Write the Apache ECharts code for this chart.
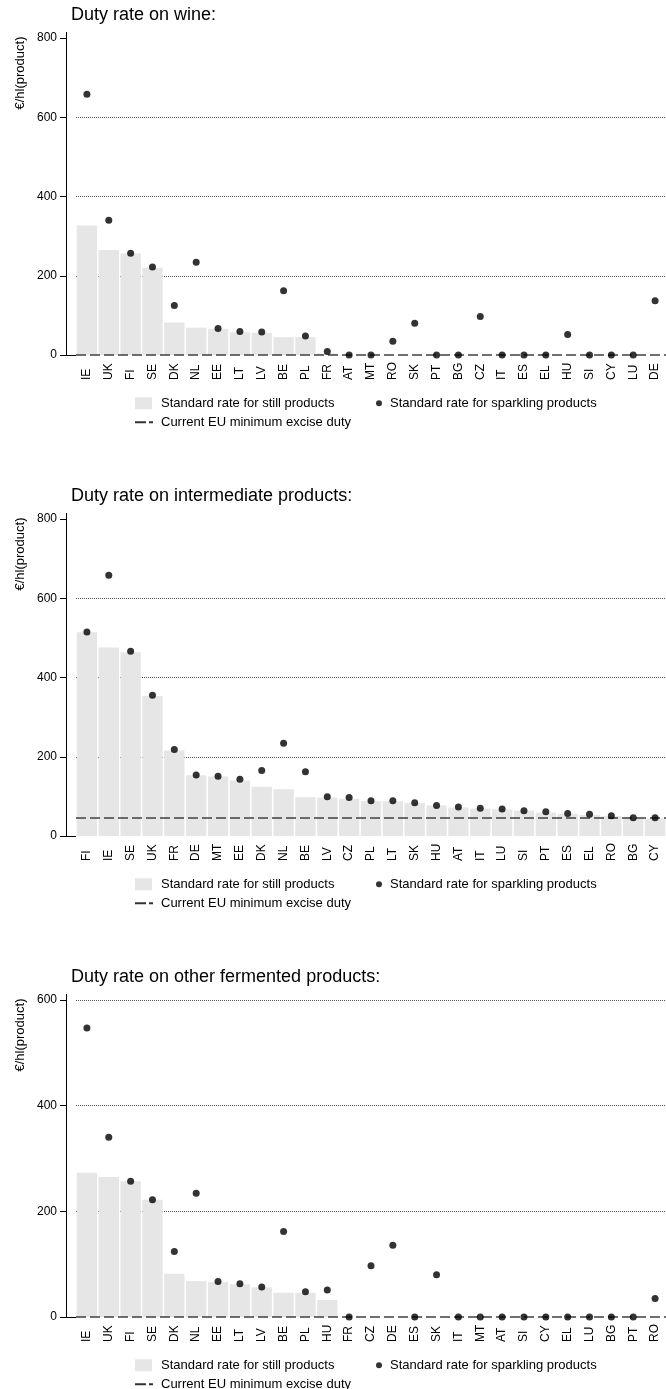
<!DOCTYPE html>
<html><head><meta charset="utf-8">
<script src="https://cdn.jsdelivr.net/npm/echarts@6/dist/echarts.min.js"></script>
<style>html,body{margin:0;padding:0;background:#fff}#c{width:666px;height:1389px}</style>
</head><body><div id="c"></div>
<script>
// ---- data ----
const titles = ["Duty rate on wine:", "Duty rate on intermediate products:", "Duty rate on other fermented products:"];
const yTitle = "€/hl(product)";
const seriesNames = ["Standard rate for still products", "Standard rate for sparkling products", "Current EU minimum excise duty"];

const catsWine = ["IE","UK","FI","SE","DK","NL","EE","LT","LV","BE","PL","FR","AT","MT","RO","SK","PT","BG","CZ","IT","ES","EL","HU","SI","CY","LU","DE"];
const stillWine = [327,265,256,220,82,69,66,57,56,45,45,4,0,0,0,0,0,0,0,0,0,0,0,0,0,0,0];
const sparkWine = [658,340,257,222,125,234,67,59,58,162,48,9,0,0,35,80,0,0,97,0,0,0,52,0,0,0,137];
const euMinWine = 0;

const catsInter = ["FI","IE","SE","UK","FR","DE","MT","EE","DK","NL","BE","LV","CZ","PL","LT","SK","HU","AT","IT","LU","SI","PT","ES","EL","RO","BG","CY"];
const stillInter = [514,476,464,353,216,153,150,140,124,118,98,97,94,88,88,83,77,72,69,67,64,59,56,53,50,45,44];
const sparkInter = [515,658,466,355,218,154,151,143,165,234,162,99,97,89,89,84,77,73,70,68,64,61,57,55,51,46,46];
const euMinInter = 45;

const catsOther = ["IE","UK","FI","SE","DK","NL","EE","LT","LV","BE","PL","HU","FR","CZ","DE","ES","SK","IT","MT","AT","SI","CY","EL","LU","BG","PT","RO"];
const stillOther = [273,265,257,222,82,68,66,62,56,46,46,32,0,0,0,0,0,0,0,0,0,0,0,0,0,0,0];
const sparkOther = [547,340,257,222,124,234,67,63,57,162,48,51,0,97,136,0,80,0,0,0,0,0,0,0,0,0,35];
const euMinOther = 0;

const yMaxes = [800, 800, 600];
const yStep = 200;

// ---- build ----
const panels = [
  {cats: catsWine, still: stillWine, spark: sparkWine, eu: euMinWine},
  {cats: catsInter, still: stillInter, spark: sparkInter, eu: euMinInter},
  {cats: catsOther, still: stillOther, spark: sparkOther, eu: euMinOther}
];
const FONT = "Liberation Sans, Arial, Helvetica, sans-serif";
const PANEL_H = 481, TOP0 = 38, PLOT_H = 317, LEFT = 76, WIDTH = 591, AXIS_X = 66;

const grid = [], xAxis = [], yAxis = [], series = [], legend = [], graphic = [];
panels.forEach((p, k) => {
  const top = TOP0 + k * PANEL_H;
  const bottom = top + PLOT_H;
  grid.push({left: LEFT, top: top, width: WIDTH, height: PLOT_H});
  xAxis.push({
    gridIndex: k, type: 'category', data: p.cats,
    axisLine: {show: false}, axisTick: {show: false},
    axisLabel: {interval: 0, rotate: 90, align: 'left', verticalAlign: 'middle', margin: 25,
      fontFamily: FONT, fontSize: 12, color: '#000'}
  });
  yAxis.push({
    gridIndex: k, type: 'value', min: 0, max: yMaxes[k], interval: yStep, offset: LEFT - AXIS_X,
    axisLine: {show: true, lineStyle: {color: '#000', width: 1}},
    axisTick: {show: true, length: 6, lineStyle: {color: '#000'}},
    axisLabel: {margin: 9, fontFamily: FONT, fontSize: 12, color: '#000'},
    splitLine: {show: true, showMinLine: false, showMaxLine: k === 2,
      lineStyle: {type: 'dotted', color: '#555', width: 1}}
  });
  series.push({
    name: seriesNames[0], type: 'bar', xAxisIndex: k, yAxisIndex: k, data: p.still,
    barCategoryGap: '7%', itemStyle: {color: '#e6e6e6'}, z: 2, silent: true
  });
  series.push({
    name: seriesNames[2], type: 'line', xAxisIndex: k, yAxisIndex: k, data: [],
    itemStyle: {color: '#404040'}, lineStyle: {color: '#404040'}, z: 3,
    markLine: {silent: true, symbol: ['none', 'none'], label: {show: false},
      lineStyle: {type: [10, 4], color: '#404040', width: 1.5},
      data: [{yAxis: p.eu}]}
  });
  series.push({
    name: seriesNames[1], type: 'scatter', xAxisIndex: k, yAxisIndex: k, data: p.spark,
    symbol: 'circle', symbolSize: 7, itemStyle: {color: '#000'}, z: 5, silent: true
  });
  const row1 = bottom + 49.3 - 7.5, row2 = bottom + 68.3 - 7.5;
  const ts = {fontFamily: FONT, fontSize: 13, color: '#000'};
  legend.push({left: 135, top: row1, padding: 0, itemWidth: 17, itemHeight: 12, selectedMode: false,
    data: [{name: seriesNames[0], icon: 'rect', itemStyle: {color: '#e6e6e6'}}],
    textStyle: Object.assign({padding: [0, 0, 0, 4]}, ts)});
  legend.push({left: 376, top: row1, padding: 0, itemWidth: 6, itemHeight: 6, selectedMode: false,
    data: [{name: seriesNames[1], icon: 'circle', itemStyle: {color: '#000'}}],
    textStyle: Object.assign({padding: [0, 0, 0, 3]}, ts)});
  legend.push({left: 135, top: row2, padding: 0, itemWidth: 18, itemHeight: 2, selectedMode: false,
    data: [{name: seriesNames[2], icon: 'path://M0,0H11V2H0Z M14,0H18V2H14Z', itemStyle: {color: '#333'}}],
    textStyle: Object.assign({padding: [0, 0, 0, 3]}, ts)});
  graphic.push({type: 'text', x: 71, y: top - 22.6,
    style: {text: titles[k], font: '18px ' + FONT, fill: '#000', textAlign: 'left', textVerticalAlign: 'middle'}});
  graphic.push({type: 'text', x: 20, y: top + 35, rotation: Math.PI / 2,
    style: {text: yTitle, font: '13px ' + FONT, fill: '#000', textAlign: 'center', textVerticalAlign: 'middle'}});
  graphic.push({type: 'line', shape: {x1: AXIS_X + 0.5, y1: top - 6, x2: AXIS_X + 0.5, y2: top},
    style: {stroke: '#000', lineWidth: 1}});
  graphic.push({type: 'line', shape: {x1: AXIS_X, y1: bottom + 0.5, x2: LEFT, y2: bottom + 0.5},
    style: {stroke: '#000', lineWidth: 1}});
});

const chart = echarts.init(document.getElementById('c'), null, {renderer: 'canvas'});
chart.setOption({animation: false, backgroundColor: '#fff', grid, xAxis, yAxis, series, legend, graphic});
</script></body></html>
